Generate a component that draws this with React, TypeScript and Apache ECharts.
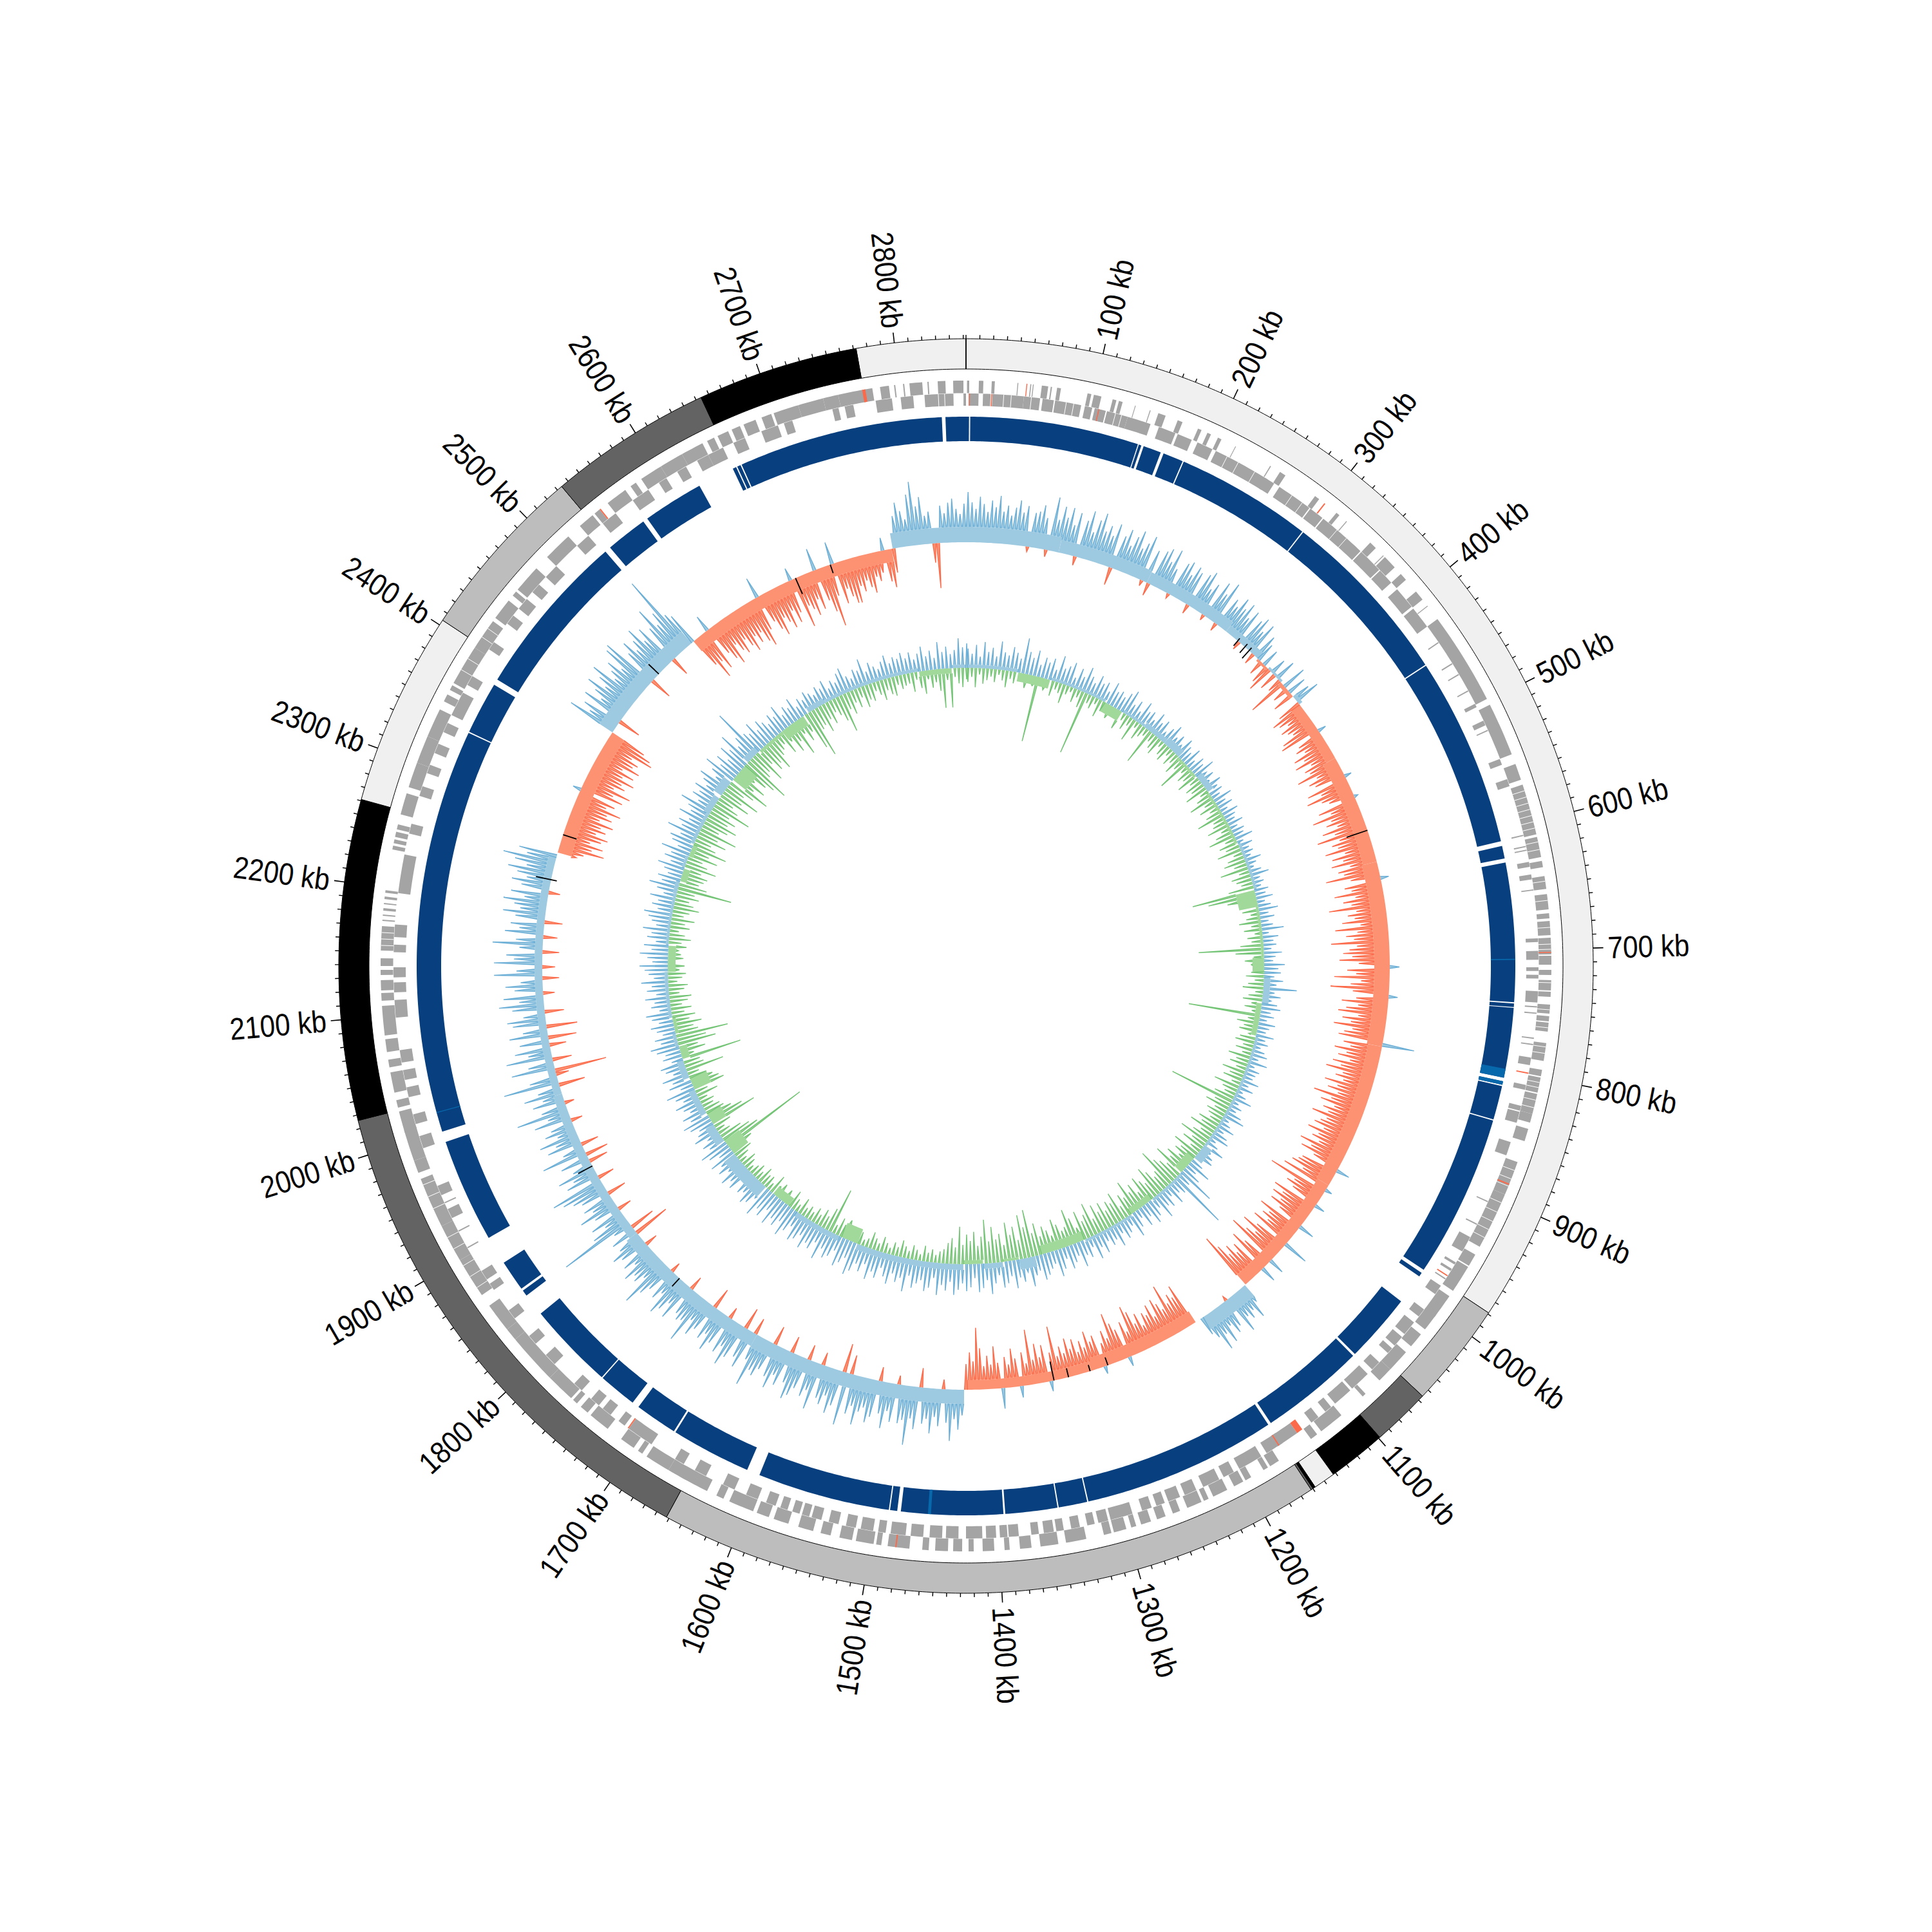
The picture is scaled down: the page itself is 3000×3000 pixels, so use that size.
import React, { useEffect, useRef } from "react";
import * as echarts from "echarts";

const GENOME_KB = 2852;
const tickLabels = [100,200,300,400,500,600,700,800,900,1000,1100,1200,1300,1400,1500,1600,1700,1800,1900,2000,2100,2200,2300,2400,2500,2600,2700,2800];

// outer contig ring: [start kb, end kb, colour]
const contigs: [number, number, string][] = [
  [2772,2852,"#f0f0f0"],[0,979,"#f0f0f0"],[979,1056,"#bdbdbd"],[1056,1099,"#636363"],[1099,1142,"#000000"],[1142,1158,"#f0f0f0"],
  [1158,1160,"#000000"],[1160,1161.5,"#636363"],[1161.5,1652,"#bdbdbd"],[1652,2026,"#636363"],[2026,2261,"#000000"],[2261,2404,"#f0f0f0"],
  [2404,2534,"#bdbdbd"],[2534,2654,"#636363"],[2654,2772,"#000000"],
];

const forwardGenes: [number, number][] = [
  [0.8,2.5],[10,13.5],[20,22.4],[40,40.7],[50,50.8],[52,52.7],[59,64],[66,67],[71,74],[95,98],[100,106],[115,118],[120,123],[133,133.6],[145,145.7],[152,158],[168,172],[185,188],[193,196],[202,205],[217,217.6],[248,248.8],[257,262],[290,294],[311,314],[321,321.7],[346,352],[360,360.7],[362,373],[380,386],[398,406],[412,412.7],[425,498],[503,545],[553,566],[570,610],[612,628],[631,636],[643,653],[657,669],[672,676],[678,689],[691,704],[705,712],[716,720],[724,732],[733,737],[743,750],[752,756],[757,764],[773,787],[794,799],[800,812],[813,829],[829,836],[841,851],[868,895],[895,940],[947,957],[958,980],[985,1005],[1003,1017],[1022,1034],[1040,1058],[1058,1070],[1085,1088],[1110,1130],[1134,1140],[1170,1178],[1180,1184],[1195,1200],[1202,1210],[1216,1228],[1232,1236],[1238,1250],[1256,1262],[1268,1275],[1280,1288],[1292,1296],[1300,1310],[1312,1318],[1332,1348],[1354,1368],[1375,1384],[1392,1396],[1404,1413],[1420,1424],[1429,1436],[1440,1450],[1455,1460],[1470,1487],[1492,1496],[1498,1512],[1515,1525],[1532,1540],[1546,1558],[1566,1578],[1582,1592],[1595,1615],[1620,1626],[1634,1668],[1668,1688],[1692,1696],[1700,1712],[1725,1742],[1745,1752],[1756,1760],[1762,1785],[1785,1825],[1825,1835],[1835,1858],[1868,1900],[1900,1930],[1930,1970],[1975,1985],[1985,2010],[2008,2025],[2028,2034],[2040,2056],[2060,2066],[2072,2082],[2085,2108],[2112,2118],[2120,2128],[2132,2136],[2139,2145],[2151,2170],[2174,2175],[2178,2179],[2182,2184],[2187,2188],[2191,2193],[2196,2198],[2230,2233],[2235,2238],[2240,2244],[2246,2250],[2258,2275],[2280,2300],[2300,2322],[2322,2345],[2352,2358],[2362,2366],[2368,2400],[2400,2425],[2428,2445],[2450,2454],[2456,2478],[2490,2513],[2525,2538],[2540,2545],[2553,2570],[2575,2580],[2585,2603],[2603,2622],[2622,2640],[2644,2650],[2653,2662],[2665,2672],[2675,2685],[2690,2698],[2700,2720],[2720,2740],[2740,2752],[2752,2779],[2785,2792],[2796,2797],[2803,2804],[2808,2818],[2822,2823],[2830,2836],[2842,2850],
];
const reverseGenes: [number, number][] = [
  [2,10],[13.5,19.5],[21,46],[46,59],[61,70],[71,92],[95,101],[103,112],[113,130],[130,149],[156,170],[172,184],[189,202],[205,252],[250,258],[263,292],[293,305],[306,345],[346,366],[367,380],[387,405],[407,425],[440,441],[460,461],[470,471],[485,486],[497,500],[512,516],[520,521],[545,550],[562,568],[608,609],[617,618],[620,621],[630,634],[640,644],[652,653],[691,694],[701,708],[714,717],[720,723],[733,742],[745,746],[750,751],[770,771],[775,776],[786,792],[808,812],[825,829],[830,839],[855,866],[905,906],[925,926],[937,950],[960,962],[966,968],[975,976],[982,990],[1005,1012],[1018,1030],[1033,1042],[1045,1050],[1060,1068],[1073,1090],[1092,1108],[1112,1118],[1125,1132],[1146,1165],[1160,1175],[1180,1200],[1205,1214],[1218,1232],[1238,1248],[1252,1262],[1265,1272],[1276,1284],[1292,1310],[1312,1320],[1323,1329],[1335,1342],[1348,1354],[1356,1364],[1368,1374],[1384,1392],[1393,1399],[1402,1410],[1413,1426],[1432,1442],[1445,1455],[1460,1470],[1474,1486],[1490,1496],[1500,1510],[1514,1522],[1528,1536],[1542,1550],[1552,1558],[1560,1566],[1570,1576],[1580,1588],[1595,1605],[1615,1625],[1640,1650],[1660,1668],[1690,1712],[1716,1722],[1730,1738],[1742,1750],[1760,1768],[1790,1800],[1812,1820],[1838,1846],[1866,1872],[1876,1884],[1905,1906],[1920,1921],[1932,1940],[1945,1946],[1952,1960],[1992,2002],[2012,2020],[2034,2042],[2048,2056],[2062,2072],[2098,2112],[2118,2126],[2130,2138],[2150,2156],[2162,2172],[2197,2228],[2245,2253],[2276,2284],[2295,2302],[2312,2320],[2330,2338],[2345,2365],[2372,2380],[2405,2412],[2430,2438],[2445,2455],[2462,2470],[2478,2490],[2513,2525],[2540,2553],[2570,2585],[2595,2602],[2612,2620],[2630,2640],[2640,2653],[2662,2672],[2686,2700],[2705,2712],[2745,2750],[2755,2762],[2780,2793],[2800,2810],[2819,2842],[2850,2852],
];
const forwardRedGenes: [number, number][] = [[47,47.7],[299,300],[702,702.8],[886,887],[1480,1481],[2545,2546],[2771,2773.5]];
const reverseRedGenes: [number, number][] = [[2.6,3.2],[20,20.8],[106,106.8],[798,799],[972,973],[1141,1146],[1163,1164],[1712,1713]];
// thin white seams between neighbouring genes
const forwardSeams = [575,580,585,590,595,600,605,616,622,647,662,683,696,700,726,747,761,776,781,804,808,818,824,875,882,888,902,910,918,925,932,1875,1885,1895,1910,1920,1945,1955,1965,2155,2160,2165,2380,2390,2410,2418];
const reverseSeams = [30,36,52,80,86,120,125,215,225,240,275,285,320,330,2830,2835];

// dark conserved-region ring
const regions: [number, number][] = [
  [0,2.5],[3.5,144.5],[145.3,147.5],[149.5,164.5],[167,184],[185,299],[300,449.5],[450.5,609],[613,623.5],[627,743],[744,747],[747.6,806],[809,812],[813,841.5],[842.5,979],[982,985.5],[1011,1069],[1071,1159],[1161.5,1324],[1325,1349],[1350,1393.5],[1395,1480],[1483,1489],[1490,1601],[1612,1679],[1680.5,1716],[1722,1754],[1755,1828],[1847,1852],[1854,1880],[1904,1991],[2000,2338],[2339,2383],[2388,2527],[2532,2567],[2571,2622],[2653,2656],[2657,2660],[2661,2832],[2835,2852],
];
const regionStripes: [number, number][] = [[707,708],[798.5,806],[809,812],[1455,1457.5],[2016,2016.7]];

// GC skew: solid band [start, end, signed thickness], then peak per 4 kb bin
const skewBands: [number, number, number][] = [
  [0,100,24],[100,200,20],[200,300,18],[300,345,12],[345,360,-4],[360,380,4],[380,400,-6],[400,411,6],[411,480,-16],[480,600,-22],[600,800,-24],[800,960,-22],[960,1099,-20],[1100,1157,22],[1166,1290,-20],[1290,1426,-15],[1428,1660,22],[1660,1830,20],[1830,2000,14],[2000,2258,12],[2262,2404,-22],[2404,2532,24],[2535,2772,-20],[2773,2852,24],
];
const skewPeaks = [
78,62,52,71,60,48,66,56,74,50,60,45,58,70,52,63,-8,54,57,68,49,-11,84,50,72,
56,73,47,68,-14,59,76,44,65,78,51,62,48,69,-28,54,67,43,60,72,46,57,71,-9,53,
-20,58,65,46,69,40,-8,56,62,43,60,54,-15,58,66,40,52,-9,63,47,70,-13,50,41,60,
46,59,38,54,-14,47,56,36,53,-18,41,30,-24,28,-30,-41,26,-28,34,-22,-61,39,-26,30,-34,
28,41,-38,-54,-46,-34,-50,-42,-36,-58,-64,13,-40,-48,-36,-58,-44,-62,-38,-52,-46,-70,-40,-56,-48,
11,-66,-46,-72,-50,-40,6,-62,-44,-76,-48,-58,-42,-68,-50,-80,-46,-60,-52,-74,-44,-66,-50,-70,-42,
-62,-54,-84,-46,13,-58,-48,-76,-44,-64,-52,-88,-46,-60,-50,-70,-42,-82,-48,-66,-54,-90,-50,-62,-72,
-58,-78,-48,15,-66,-52,-86,-44,-60,-91,-56,14,-50,-72,-46,-64,-76,-44,-68,-54,-80,-50,-62,-70,50,
-60,-48,-72,-52,-64,-44,-70,-56,-78,-50,-60,-46,-74,-52,-66,-48,-85,-55,-70,-46,-62,-52,-76,-50,-58,
-66,-48,-72,-52,-60,-46,-75,-54,-68,-44,21,-58,-62,-70,-48,-78,11,-95,-50,-60,-46,16,-72,-54,-68,
-50,-64,-44,25,-72,-52,-60,-46,-68,40,-54,-76,-48,-62,-85,25,-50,-70,25,-58,-46,-64,-52,-72,-93,
30,55,38,48,40,62,-8,44,52,35,60,42,65,40,30,0,0,-69,-52,-60,-48,-81,-44,-56,-66,
-40,-62,-48,-54,-36,-58,-44,-66,-77,-38,-56,15,-48,-60,-78,-40,-54,-36,12,-52,-44,-62,-38,-50,-34,
-56,-42,-60,-38,-50,-36,-84,-44,16,-58,-40,-62,-38,-86,-34,-52,18,-44,-60,-36,-48,32,-40,-66,-38,
-52,-36,-64,-96,-44,-58,-40,40,62,46,80,52,-15,58,44,70,48,56,-30,66,50,92,54,60,-14,
60,44,72,50,-22,58,68,46,54,76,48,62,-30,83,-45,56,70,44,60,52,-20,74,46,58,-24,
50,64,72,48,-26,58,44,68,52,-30,46,60,54,82,42,-26,62,48,-34,56,72,44,58,-18,50,
66,42,54,-33,46,60,38,80,48,52,44,-22,62,40,56,68,36,50,-16,44,58,82,38,52,46,
60,34,50,-20,44,56,38,-58,42,-40,30,119,60,34,54,-22,40,62,36,48,-30,44,56,70,84,
-26,52,38,60,32,-30,46,-36,71,34,-28,54,38,62,30,48,36,-18,58,34,82,40,-15,50,32,
60,36,-41,87,44,-20,-81,68,40,-30,72,36,56,-26,46,-44,60,38,-48,52,60,34,-30,50,70,
38,62,-18,44,58,34,-26,75,40,-20,75,44,56,-26,36,78,42,-22,60,38,52,-28,46,66,40,
50,68,36,58,-18,44,60,38,54,70,42,62,82,46,60,-30,-40,-71,-50,-66,-44,-60,-69,-48,-62,
-52,-70,-46,-64,-54,-74,-48,-60,13,-68,-50,-76,-46,-62,-54,-72,-50,-66,-44,-70,-56,-62,-48,-80,-74,
-60,79,48,62,-36,70,44,60,78,50,66,83,46,58,70,48,84,89,-35,56,72,50,64,80,52,
70,-30,60,90,56,74,130,60,52,-50,-77,-52,-68,26,-48,-62,-74,-44,-58,-66,-46,-60,-72,-50,-64,
-50,-68,-78,-54,33,-46,-62,-74,-48,-58,-70,-44,-66,-52,20,-80,-48,-56,-68,-44,-62,35,-52,-72,-97,
-50,35,-66,-44,-58,-70,-71,-46,-56,-40,-52,-62,-38,-46,-34,20,-50,-60,-38,50,70,56,42,80,99,
60,74,44,50,-30,-70,58,46,62,68,52,44,60,
];
const skewBlackMarks: [number, number, number][] = [
  [316,-10,5],[326,-12,6],[332,-16,6],[565,-34,0],[1271,-13,0],[1291,-10,0],[1315,-14,0],[1331,-30,0],[1763,0,17],[1916,0,25],[2232,-9,24],[2282,-22,0],[2484,0,22],[2664,-27,0],[2704,-14,0],
];

// GC content: band and outward/inward peaks per 6 kb bin
const gcBands: [number, number, number][] = [
  [0,80,5],[80,130,-14],[130,220,4],[220,250,-16],[250,290,4],[290,330,8],[330,360,12],[360,400,-4],[400,430,10],[430,520,-4],[520,596,4],[596,622,-30],[622,700,-4],[700,722,-18],[730,770,10],[770,820,-8],[820,1005,4],[1005,1030,14],[1030,1060,-14],[1060,1120,4],[1120,1160,-10],[1160,1240,4],[1240,1310,-14],[1320,1345,16],[1345,1370,-4],[1370,1400,8],[1400,1430,-6],[1430,1595,9],[1595,1622,-24],[1625,1700,8],[1715,1745,-14],[1760,1830,20],[1830,1855,-28],[1855,1885,14],[1885,1905,-24],[1905,1945,10],[1945,1965,-28],[1965,1995,10],[1995,2015,-12],[2015,2035,5],[2035,2060,-5],[2060,2130,5],[2130,2170,-12],[2170,2250,4],[2250,2270,6],[2270,2290,-10],[2290,2310,4],[2310,2330,-7],[2330,2380,5],[2380,2410,10],[2415,2440,14],[2445,2475,-25],[2480,2505,10],[2505,2550,-5],[2550,2590,-16],[2600,2630,8],[2630,2780,5],[2780,2830,-8],[2830,2852,5],
];
const gcOutward = [
30,22,36,18,41,26,33,20,44,28,24,38,30,22,55,35,27,40,19,32,
26,34,18,42,24,30,38,16,33,22,40,28,20,35,25,30,18,36,24,28,
22,32,40,20,30,16,36,24,28,18,34,22,30,14,26,36,20,28,16,32,
24,18,30,14,26,20,34,16,24,12,28,18,22,14,30,16,24,12,26,18,
14,24,12,20,16,28,10,22,14,18,12,26,16,10,20,30,14,18,12,22,
16,26,12,20,30,14,22,12,18,34,10,24,16,20,12,28,18,14,32,22,
26,16,30,20,52,18,28,14,24,30,16,22,12,26,18,14,28,16,22,12,
20,26,14,30,12,22,18,16,28,14,24,10,18,30,12,20,14,26,34,12,
18,28,14,24,30,12,20,34,16,24,28,14,20,38,18,30,60,22,93,26,
20,34,16,30,24,40,18,28,36,20,32,14,26,38,16,24,30,18,36,22,
28,18,34,22,38,16,30,24,40,20,28,36,18,32,42,20,26,34,40,24,
30,46,22,36,28,44,24,34,40,20,32,48,26,38,44,22,36,42,30,40,
48,28,42,34,50,24,40,46,30,36,44,26,52,32,40,28,46,36,24,42,
34,48,26,40,30,44,52,28,38,46,24,36,42,30,50,26,40,34,46,28,
38,44,24,36,48,28,40,32,46,26,42,34,50,24,38,44,30,36,20,40,
32,44,24,38,28,42,22,36,46,26,34,20,40,30,24,36,44,28,38,22,
30,40,24,34,46,20,36,28,42,22,32,38,18,30,24,36,44,26,34,20,
28,36,22,32,40,18,30,24,38,20,34,26,42,22,30,36,44,24,32,44,
26,38,20,34,28,42,22,30,36,44,24,34,26,40,20,32,46,28,36,22,
30,42,24,36,28,46,22,34,40,26,50,30,38,24,44,28,36,52,26,40,
32,44,28,38,48,24,36,52,30,42,26,46,34,56,28,40,82,36,30,44,
26,38,30,22,34,26,40,20,30,24,36,18,28,22,32,26,20,30,24,34,
18,28,22,34,40,24,18,30,26,42,20,32,24,18,28,36,22,30,26,34,
24,32,20,28,38,22,30,18,42,26,34,22,28,46,32,38,
];
const gcInward = [
22,14,30,10,24,18,12,20,8,16,26,12,18,8,14,22,10,16,103,12,
18,10,24,12,16,30,14,8,22,12,26,100,14,20,10,28,16,12,22,8,
16,30,12,24,14,36,10,26,18,12,57,14,22,28,10,20,26,12,24,16,
30,18,50,14,26,20,34,16,28,22,36,14,24,40,18,30,16,26,44,20,
24,36,16,28,42,18,30,22,38,14,26,34,20,44,16,30,24,18,40,99,
75,46,30,20,26,14,22,34,16,28,12,24,18,36,101,44,16,30,20,12,
20,28,14,24,32,12,22,30,16,26,14,112,18,34,22,28,12,24,30,16,
26,14,34,20,28,16,36,22,30,14,40,24,18,32,103,26,38,20,30,24,
18,34,26,42,20,30,48,24,36,18,44,28,34,22,40,30,52,26,36,44,
63,30,24,38,49,26,34,44,22,40,30,52,28,36,20,46,32,38,26,42,
30,44,24,52,36,28,46,22,40,56,30,26,38,48,24,34,42,28,50,36,
74,48,68,30,52,40,60,26,44,36,56,34,68,42,28,50,36,46,30,58,
26,40,32,22,18,12,20,14,24,10,16,22,12,18,26,14,20,10,16,24,
12,18,26,14,10,20,16,24,12,30,20,28,14,71,36,20,28,16,24,14,
20,14,26,12,18,28,14,22,10,24,16,30,12,20,18,26,14,22,16,10,
18,24,12,20,30,14,40,139,60,48,36,20,14,28,75,56,40,30,26,18,
22,14,34,20,50,44,36,28,18,60,30,26,94,20,40,30,60,46,82,36,
30,44,26,36,20,32,18,28,34,16,24,30,14,22,28,18,26,12,24,20,
16,28,20,34,24,14,30,22,36,18,26,40,30,22,36,28,85,44,30,36,
40,28,50,34,24,46,30,56,36,26,48,32,60,28,40,52,34,44,30,62,
38,26,50,34,60,30,44,66,36,52,28,46,58,76,40,34,54,28,44,36,
50,30,24,18,38,22,44,30,56,24,40,28,60,76,34,30,44,26,36,20,
28,40,60,26,36,20,30,16,34,24,28,14,22,32,18,26,30,14,22,18,
16,30,12,26,36,14,28,20,34,61,18,61,14,24,30,18,
];

const R = {
  ringIn: 927, ringOut: 974, major: 990, minor: 980, label: 997,
  geneFwdIn: 889.5, geneFwdOut: 909, geneRevIn: 870, geneRevOut: 889,
  regionIn: 815, regionOut: 853, skew: 658, gc: 463,
};
const C = {
  gene: "#a4a4a4", red: "#fb6a4a", redFill: "#fc9272", blue: "#6baed6", blueFill: "#9ecae1",
  green: "#74c476", greenFill: "#a1d99b", region: "#083f7e", stripe: "#0868ac",
};

type Api = any;
const pt = (api: Api, r: number, kb: number) => api.coord([r, ((kb % GENOME_KB) + GENOME_KB) % GENOME_KB]);
const pointAt = (api: Api, r: number, kb: number) => (kb === GENOME_KB ? api.coord([r, GENOME_KB]) : pt(api, r, kb));
const arc = (api: Api, r1: number, r2: number, s: number, e: number) => {
  const n = Math.max(1, Math.ceil((e - s) / 3));
  const pts: number[][] = [];
  for (let i = 0; i <= n; i++) pts.push(pointAt(api, r2, s + ((e - s) * i) / n));
  for (let i = n; i >= 0; i--) pts.push(pointAt(api, r1, s + ((e - s) * i) / n));
  return pts;
};

const layer = <T,>(items: T[], draw: (it: T, api: Api) => any) => ({
  type: "custom",
  coordinateSystem: "polar",
  silent: true,
  clip: false,
  progressive: 0,
  animation: false,
  encode: { radius: 0, angle: 1 },
  data: items.map(() => [500, 0]),
  renderItem: (p: any, api: Api) => draw(items[p.dataIndex], api),
});

const blockLayer = (items: [number, number][], r1: number, r2: number, fill: string) =>
  layer(items, (it, api) => ({ type: "polygon", shape: { points: arc(api, r1, r2, it[0], it[1]) }, style: { fill, stroke: null } }));
const seamLayer = (items: number[], r1: number, r2: number) =>
  layer(items, (k, api) => ({ type: "polyline", shape: { points: [pointAt(api, r1, k), pointAt(api, r2, k)] }, style: { fill: null, stroke: "#ffffff", lineWidth: 1 } }));

const bandLayer = (bands: [number, number, number][], base: number, posFill: string, negFill: string) =>
  layer(bands, (b, api) => ({
    type: "polygon",
    shape: { points: arc(api, b[2] > 0 ? base : base + b[2], b[2] > 0 ? base + b[2] : base, b[0], b[1]) },
    style: { fill: b[2] > 0 ? posFill : negFill, stroke: null },
  }));

const bandAt = (bands: [number, number, number][], kb: number) => {
  for (const b of bands) if (kb >= b[0] && kb < b[1]) return b[2];
  return 0;
};

const spike = (api: Api, base: number, kb: number, w: number, floor: number, v: number, line: string, fill: string) => {
  const a = pointAt(api, base + floor, kb - w / 2);
  const t = pointAt(api, base + v, kb);
  const b = pointAt(api, base + floor, kb + w / 2);
  return {
    type: "group",
    children: [
      { type: "polygon", shape: { points: [a, t, b] }, style: { fill, stroke: null } },
      { type: "polyline", shape: { points: [a, t, b] }, style: { fill: null, stroke: line, lineWidth: 1.4 } },
    ],
  };
};

const skewItems = skewPeaks.map((v, i) => ({ v, kb: i * 4 + 2 })).filter((d) => d.v !== 0);
const gcUpItems = gcOutward.map((v, i) => ({ v, kb: i * 6 + 3 }));
const gcDownItems = gcInward.map((v, i) => ({ v, kb: i * 6 + 3 }));
const minorTicks: number[] = [];
for (let k = 0; k < GENOME_KB; k += 10) if (k % 100 !== 0 || k === 0) minorTicks.push(k);

function buildOption() {
  return {
    animation: false,
    backgroundColor: "#ffffff",
    polar: { center: [1500, 1500], radius: 1000 },
    angleAxis: { type: "value", min: 0, max: GENOME_KB, startAngle: 90, clockwise: true, show: false },
    radiusAxis: { type: "value", min: 0, max: 1000, show: false },
    series: [
      layer(contigs, (c, api) => ({
        type: "polygon",
        shape: { points: arc(api, R.ringIn, R.ringOut, c[0], c[1]) },
        style: { fill: c[2], stroke: "#000000", lineWidth: 1 },
      })),
      layer([0], (_, api) => ({
        type: "polyline",
        shape: { points: [pointAt(api, R.ringIn, 0), pointAt(api, R.ringOut, 0)] },
        style: { fill: null, stroke: "#000000", lineWidth: 1.6 },
      })),
      layer(minorTicks, (k, api) => ({
        type: "polyline",
        shape: { points: [pointAt(api, R.ringOut, k), pointAt(api, R.minor, k)] },
        style: { fill: null, stroke: "#000000", lineWidth: 1.4 },
      })),
      layer(tickLabels, (k, api) => ({
        type: "polyline",
        shape: { points: [pointAt(api, R.ringOut, k), pointAt(api, R.major, k)] },
        style: { fill: null, stroke: "#000000", lineWidth: 1.6 },
      })),
      layer(tickLabels, (k, api) => {
        const p = pointAt(api, R.label, k);
        const theta = (k / GENOME_KB) * Math.PI * 2;
        const right = theta < Math.PI;
        return {
          type: "text",
          x: p[0],
          y: p[1],
          rotation: right ? Math.PI / 2 - theta : (3 * Math.PI) / 2 - theta,
          scaleX: 0.88,
          style: {
            text: `${k} kb`,
            fontFamily: "Liberation Sans",
            fontSize: 48,
            fill: "#000000",
            align: right ? "left" : "right",
            verticalAlign: "middle",
          },
        };
      }),
      blockLayer(forwardGenes, R.geneFwdIn, R.geneFwdOut, C.gene),
      blockLayer(reverseGenes, R.geneRevIn, R.geneRevOut, C.gene),
      seamLayer(forwardSeams, R.geneFwdIn, R.geneFwdOut),
      seamLayer(reverseSeams, R.geneRevIn, R.geneRevOut),
      blockLayer(forwardRedGenes, R.geneFwdIn, R.geneFwdOut, C.red),
      blockLayer(reverseRedGenes, R.geneRevIn, R.geneRevOut, C.red),
      blockLayer(regions, R.regionIn, R.regionOut, C.region),
      blockLayer(regionStripes, R.regionIn, R.regionOut, C.stripe),
      bandLayer(skewBands, R.skew, C.blueFill, C.redFill),
      layer(skewItems, (d, api) => {
        const band = bandAt(skewBands, d.kb);
        const floor = band * d.v > 0 ? band : 0;
        if (Math.abs(d.v) <= Math.abs(floor)) return null;
        return d.v > 0
          ? spike(api, R.skew, d.kb, 3.2, floor, d.v, C.blue, C.blueFill)
          : spike(api, R.skew, d.kb, 3.2, floor, d.v, C.red, C.redFill);
      }),
      layer(skewBlackMarks, (m, api) => ({
        type: "polyline",
        shape: { points: [pointAt(api, R.skew + m[1], m[0]), pointAt(api, R.skew + m[2], m[0])] },
        style: { fill: null, stroke: "#000000", lineWidth: 1.8 },
      })),
      bandLayer(gcBands, R.gc, C.blueFill, C.greenFill),
      layer(gcUpItems, (d, api) => {
        const band = bandAt(gcBands, d.kb);
        const floor = band > 0 ? band : 0;
        if (d.v <= floor) return null;
        return spike(api, R.gc, d.kb, 3, floor, d.v, C.blue, C.blueFill);
      }),
      layer(gcDownItems, (d, api) => {
        const band = bandAt(gcBands, d.kb);
        const floor = band < 0 ? band : 0;
        if (d.v <= -floor) return null;
        return spike(api, R.gc, d.kb, 3, floor, -d.v, C.green, C.greenFill);
      }),
    ],
  };
}

export default function App() {
  const ref = useRef<HTMLDivElement>(null);
  useEffect(() => {
    document.body.style.margin = "0";
    const chart = echarts.init(ref.current as HTMLDivElement, undefined, { renderer: "svg", width: 3000, height: 3000 });
    chart.setOption(buildOption() as any);
    return () => chart.dispose();
  }, []);
  return <div ref={ref} style={{ width: 3000, height: 3000, position: "absolute", left: 0, top: 0 }} />;
}
